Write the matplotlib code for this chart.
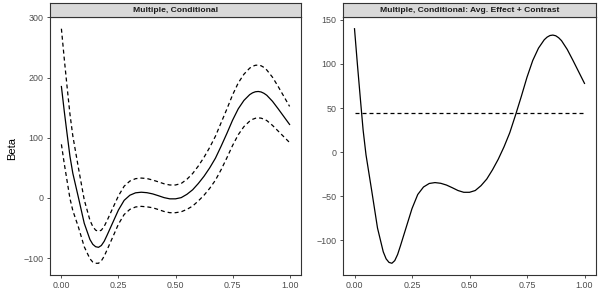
import numpy as np
import matplotlib
matplotlib.use("Agg")
import matplotlib.pyplot as plt

plt.rcParams['font.family'] = ['Liberation Sans', 'DejaVu Sans']

x = [0, 0.0125, 0.025, 0.0375, 0.05, 0.075, 0.1, 0.125, 0.1375, 0.15, 0.1625, 0.175,
     0.1875, 0.2, 0.225, 0.25, 0.275, 0.3, 0.325, 0.35, 0.375, 0.4, 0.425, 0.45, 0.475,
     0.5, 0.525, 0.55, 0.575, 0.6, 0.625, 0.65, 0.675, 0.7, 0.725, 0.75, 0.775, 0.8,
     0.825, 0.8375, 0.85, 0.8625, 0.875, 0.8875, 0.9, 0.925, 0.95, 0.975, 1.0]

cond_fit = [185, 144, 106, 69, 41, 0, -42, -69, -77, -81, -82, -79,
            -72, -62, -41, -20, -4, 4.5, 8.5, 9.5, 8.7, 6.7, 3.7, 0.5, -1.5,
            -1.5, 0.5, 6, 13.5, 24, 36, 50, 66, 86, 107, 129, 148, 162,
            171.5, 174.5, 176.3, 176.8, 176, 173.8, 170.5, 160.5, 148, 135, 122]
cond_upper = [281, 231, 184, 139, 103, 49, -3, -37, -47.5, -53.5, -55.5, -53.5,
              -47.2, -37.7, -17, 3.5, 19.5, 28, 32, 33, 32.2, 29.7, 26.7, 23.5, 21.5,
              21.5, 24, 31, 40.5, 53, 67.5, 84, 102.5, 125, 147.5, 171, 191, 205.5,
              215.5, 218.5, 220.3, 220.6, 219.5, 216.8, 212.5, 200.5, 185, 168.5, 152]
cond_lower = [89, 57, 28, -1, -21, -49, -81, -101, -106.5, -108.5, -108.5, -104.5,
              -96.8, -86.3, -65, -43.5, -27.5, -19, -15, -14, -14.8, -16.3, -19.3, -22.5, -24.5,
              -24.5, -23, -19, -13.5, -5, 4.5, 16, 29.5, 47, 66.5, 87, 105, 118.5,
              127.5, 130.5, 132.3, 133, 132.5, 130.8, 128.5, 120.5, 111, 101.5, 92]
contrast = [140, 100, 62, 25, -3, -44, -86, -113, -121, -125, -126, -123,
            -116, -106, -85, -64, -48, -39.5, -35.5, -34.5, -35.3, -37.3, -40.3, -43.5, -45.5,
            -45.5, -43.5, -38, -30.5, -20, -8, 6, 22, 42, 63, 85, 104, 118,
            127.5, 130.5, 132.3, 132.8, 132, 129.8, 126.5, 116.5, 104, 91, 78]
avg_effect = 44

titles = ["Multiple, Conditional", "Multiple, Conditional: Avg. Effect + Contrast"]
xticks = [0.0, 0.25, 0.5, 0.75, 1.0]
xticklabels = ["0.00", "0.25", "0.50", "0.75", "1.00"]
yticks_left = [-100, 0, 100, 200, 300]
yticks_right = [-100, -50, 0, 50, 100, 150]
ylabel = "Beta"

W, H = 600, 300
fig = plt.figure(figsize=(6, 3), dpi=100)

def px_axes(x0, x1, y0, y1):
    return fig.add_axes([x0 / W, (H - y1) / H, (x1 - x0) / W, (y1 - y0) / H])

def style(ax, yticks):
    for s in ax.spines.values():
        s.set_color('#333333')
        s.set_linewidth(0.8)
    ax.set_xticks(xticks)
    ax.set_xticklabels(xticklabels)
    ax.set_yticks(yticks)
    ax.tick_params(axis='both', length=2.5, width=0.6, color='#333333',
                   labelsize=6.4, labelcolor='#4d4d4d', pad=2)
    ax.set_xlim(-0.05, 1.05)

def strip(x0, x1, text):
    sax = px_axes(x0, x1, 3, 17)
    sax.set_facecolor('#d9d9d9')
    for s in sax.spines.values():
        s.set_color('#333333')
        s.set_linewidth(0.8)
    sax.set_xticks([])
    sax.set_yticks([])
    sax.text(0.5, 0.5, text, ha='center', va='center', fontsize=6.1,
             fontweight='bold', color='#1a1a1a', transform=sax.transAxes)

def expand(vals):
    lo, hi = min(vals), max(vals)
    d = (hi - lo) * 0.05
    return lo - d, hi + d

dash = (0, (3.2, 2.4))

# Left panel
ax1 = px_axes(50, 301, 17, 275)
ax1.plot(x, cond_fit, color='black', lw=0.9)
ax1.plot(x, cond_upper, color='black', lw=0.9, linestyle=dash)
ax1.plot(x, cond_lower, color='black', lw=0.9, linestyle=dash)
ax1.set_ylim(*expand(cond_upper + cond_lower))
style(ax1, yticks_left)
strip(50, 301, titles[0])

fig.text(12 / W, (H - 149) / H, ylabel, rotation=90, ha='center', va='center',
         fontsize=8, color='black')

# Right panel
ax2 = px_axes(343, 596, 17, 275)
ax2.plot(x, contrast, color='black', lw=0.9)
ax2.plot([x[0], x[-1]], [avg_effect, avg_effect], color='black', lw=0.9, linestyle=dash)
ax2.set_ylim(*expand(contrast))
style(ax2, yticks_right)
strip(343, 596, titles[1])

fig.savefig("out.png", dpi=100)
